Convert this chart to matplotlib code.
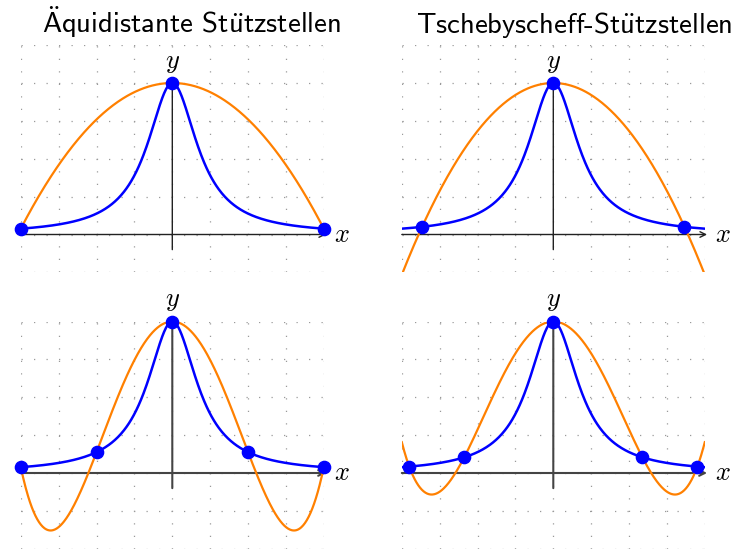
import matplotlib
matplotlib.use('Agg')
import matplotlib.pyplot as plt
import numpy as np

plt.rcParams['mathtext.fontset'] = 'cm'

# Stuetzstellen (nodes)
equi3 = [-1.0, 0.0, 1.0]
cheb3 = [-0.866, 0.0, 0.866]
equi5 = [-1.0, -0.5, 0.0, 0.5, 1.0]
cheb5 = [-0.951, -0.588, 0.0, 0.588, 0.951]

# umlauts via mathtext, rest in cm sans
titles = [r'$\mathsf{\ddot{A}}$quidistante St$\mathsf{\ddot{u}}$tzstellen',
          r'Tschebyscheff-St$\mathsf{\ddot{u}}$tzstellen']
grid_ticks = [-1, -0.75, -0.5, -0.25, 0, 0.25, 0.5, 0.75, 1, 1.25]


def runge(x):
    x = np.asarray(x, dtype=float)
    return 1.0 / (1.0 + 25.0 * x**2)


W, H = 737, 551
fig = plt.figure(figsize=(W / 100, H / 100), dpi=100)

scale = 151.5  # pixel per unit


def make_axes(cx, cy, ylo, yhi):
    left = cx - scale
    top = cy - yhi * scale
    h = (yhi - ylo) * scale
    ax = fig.add_axes([left / W, 1 - (top + h) / H, 2 * scale / W, h / H])
    ax.set_xlim(-1, 1)
    ax.set_ylim(ylo, yhi)
    ax.set_xticks([t for t in grid_ticks if t <= 1])
    ax.set_yticks([t for t in grid_ticks if ylo - 1e-9 <= t <= yhi + 1e-9])
    ax.tick_params(length=0, labelbottom=False, labelleft=False)
    for s in ax.spines.values():
        s.set_visible(False)
    ax.grid(True, color='#9a9a9a', linestyle=(0, (1, 9)), linewidth=0.9)
    ax.set_axisbelow(True)
    return ax


def draw_panel(ax, nodes, axis_color, axis_lw):
    xs = np.linspace(-1, 1, 500)
    ny = runge(nodes)
    coef = np.polyfit(nodes, ny, len(nodes) - 1)
    # axes with arrows
    ax.annotate('', xy=(1.015, 0), xytext=(-1.0, 0),
                arrowprops=dict(arrowstyle='->', color=axis_color, lw=axis_lw,
                                shrinkA=0, shrinkB=0), annotation_clip=False, zorder=2)
    ax.annotate('', xy=(0, 1.03), xytext=(0, -0.1),
                arrowprops=dict(arrowstyle='->', color=axis_color, lw=axis_lw,
                                shrinkA=0, shrinkB=0), annotation_clip=False, zorder=2)
    ax.text(1.12, 0, '$x$', fontsize=19, ha='center', va='center')
    ax.text(0, 1.14, '$y$', fontsize=19, ha='center', va='center')
    ax.plot(xs, np.polyval(coef, xs), color='#ff8000', lw=1.6, zorder=3)
    ax.plot(xs, runge(xs), color='#0000ff', lw=1.8, zorder=4)
    ax.plot(nodes, ny, 'o', color='#0000ff', ms=8.8, clip_on=False, zorder=5)


ax1 = make_axes(172.3, 234.5, -0.25, 1.25)
draw_panel(ax1, equi3, '#222222', 1.0)
ax2 = make_axes(553.3, 234.5, -0.25, 1.25)
draw_panel(ax2, cheb3, '#222222', 1.0)
ax3 = make_axes(172.3, 473.0, -0.5, 1.0)
draw_panel(ax3, equi5, '#444444', 1.5)
ax4 = make_axes(553.3, 473.0, -0.5, 1.0)
draw_panel(ax4, cheb5, '#444444', 1.5)

title_font = ['cmss10', 'DejaVu Sans']
fig.text(191 / W, 1 - 33 / H, titles[0], fontsize=20.7, family=title_font,
         ha='center', va='baseline')
fig.text(574 / W, 1 - 33 / H, titles[1], fontsize=20.7, family=title_font,
         ha='center', va='baseline')

fig.savefig('out.png', dpi=100)
